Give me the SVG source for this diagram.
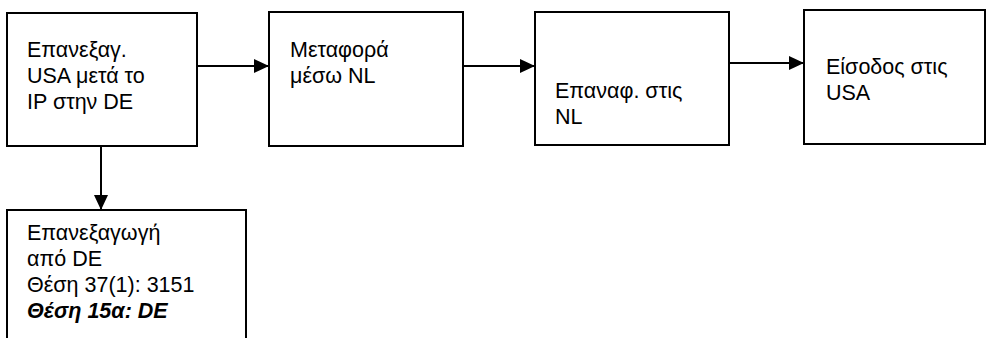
<svg xmlns="http://www.w3.org/2000/svg" width="987" height="338" viewBox="0 0 987 338">
<style>
.box{fill:#fff;stroke:#000;stroke-width:2}
.t{font-family:"Liberation Sans",Arial,sans-serif;font-size:21.5px;fill:#000}
.bi{font-weight:bold;font-style:italic}
.c{stroke:#000;stroke-width:2;fill:none}
</style>
<defs>
<marker id="ah" markerUnits="userSpaceOnUse" markerWidth="16" markerHeight="14" refX="15" refY="7" orient="auto">
<path d="M0,0 L15,7 L0,14 z" fill="#000"/>
</marker>
</defs>
<rect width="987" height="338" fill="#fff"/>
<g id="connectors">
<line class="c" x1="197" y1="66" x2="269" y2="66" marker-end="url(#ah)"/>
<line class="c" x1="463" y1="66" x2="535" y2="66" marker-end="url(#ah)"/>
<line class="c" x1="729" y1="63" x2="804" y2="63" marker-end="url(#ah)"/>
<line class="c" x1="101" y1="146" x2="101" y2="210" marker-end="url(#ah)"/>
</g>
<g id="n1">
<rect class="box" x="7" y="13" width="190" height="133"/>
<text class="t" x="27" y="57">Επανεξαγ.</text>
<text class="t" x="27" y="83">USA μετά το</text>
<text class="t" x="27" y="109">IP στην DE</text>
</g>
<g id="n2">
<rect class="box" x="269" y="12" width="194" height="134"/>
<text class="t" x="290" y="57">Μεταφορά</text>
<text class="t" x="290" y="83">μέσω NL</text>
</g>
<g id="n3">
<rect class="box" x="535" y="12" width="194" height="133"/>
<text class="t" x="555" y="98">Επαναφ. στις</text>
<text class="t" x="555" y="124">NL</text>
</g>
<g id="n4">
<rect class="box" x="804" y="10" width="181" height="134"/>
<text class="t" x="826" y="74">Είσοδος στις</text>
<text class="t" x="826" y="100">USA</text>
</g>
<g id="n5">
<rect class="box" x="7" y="210" width="239" height="140"/>
<text class="t" x="27" y="240">Επανεξαγωγή</text>
<text class="t" x="27" y="266">από DE</text>
<text class="t" x="27" y="292">Θέση 37(1): 3151</text>
<text class="t bi" x="27" y="318">Θέση 15α: DE</text>
</g>
</svg>
